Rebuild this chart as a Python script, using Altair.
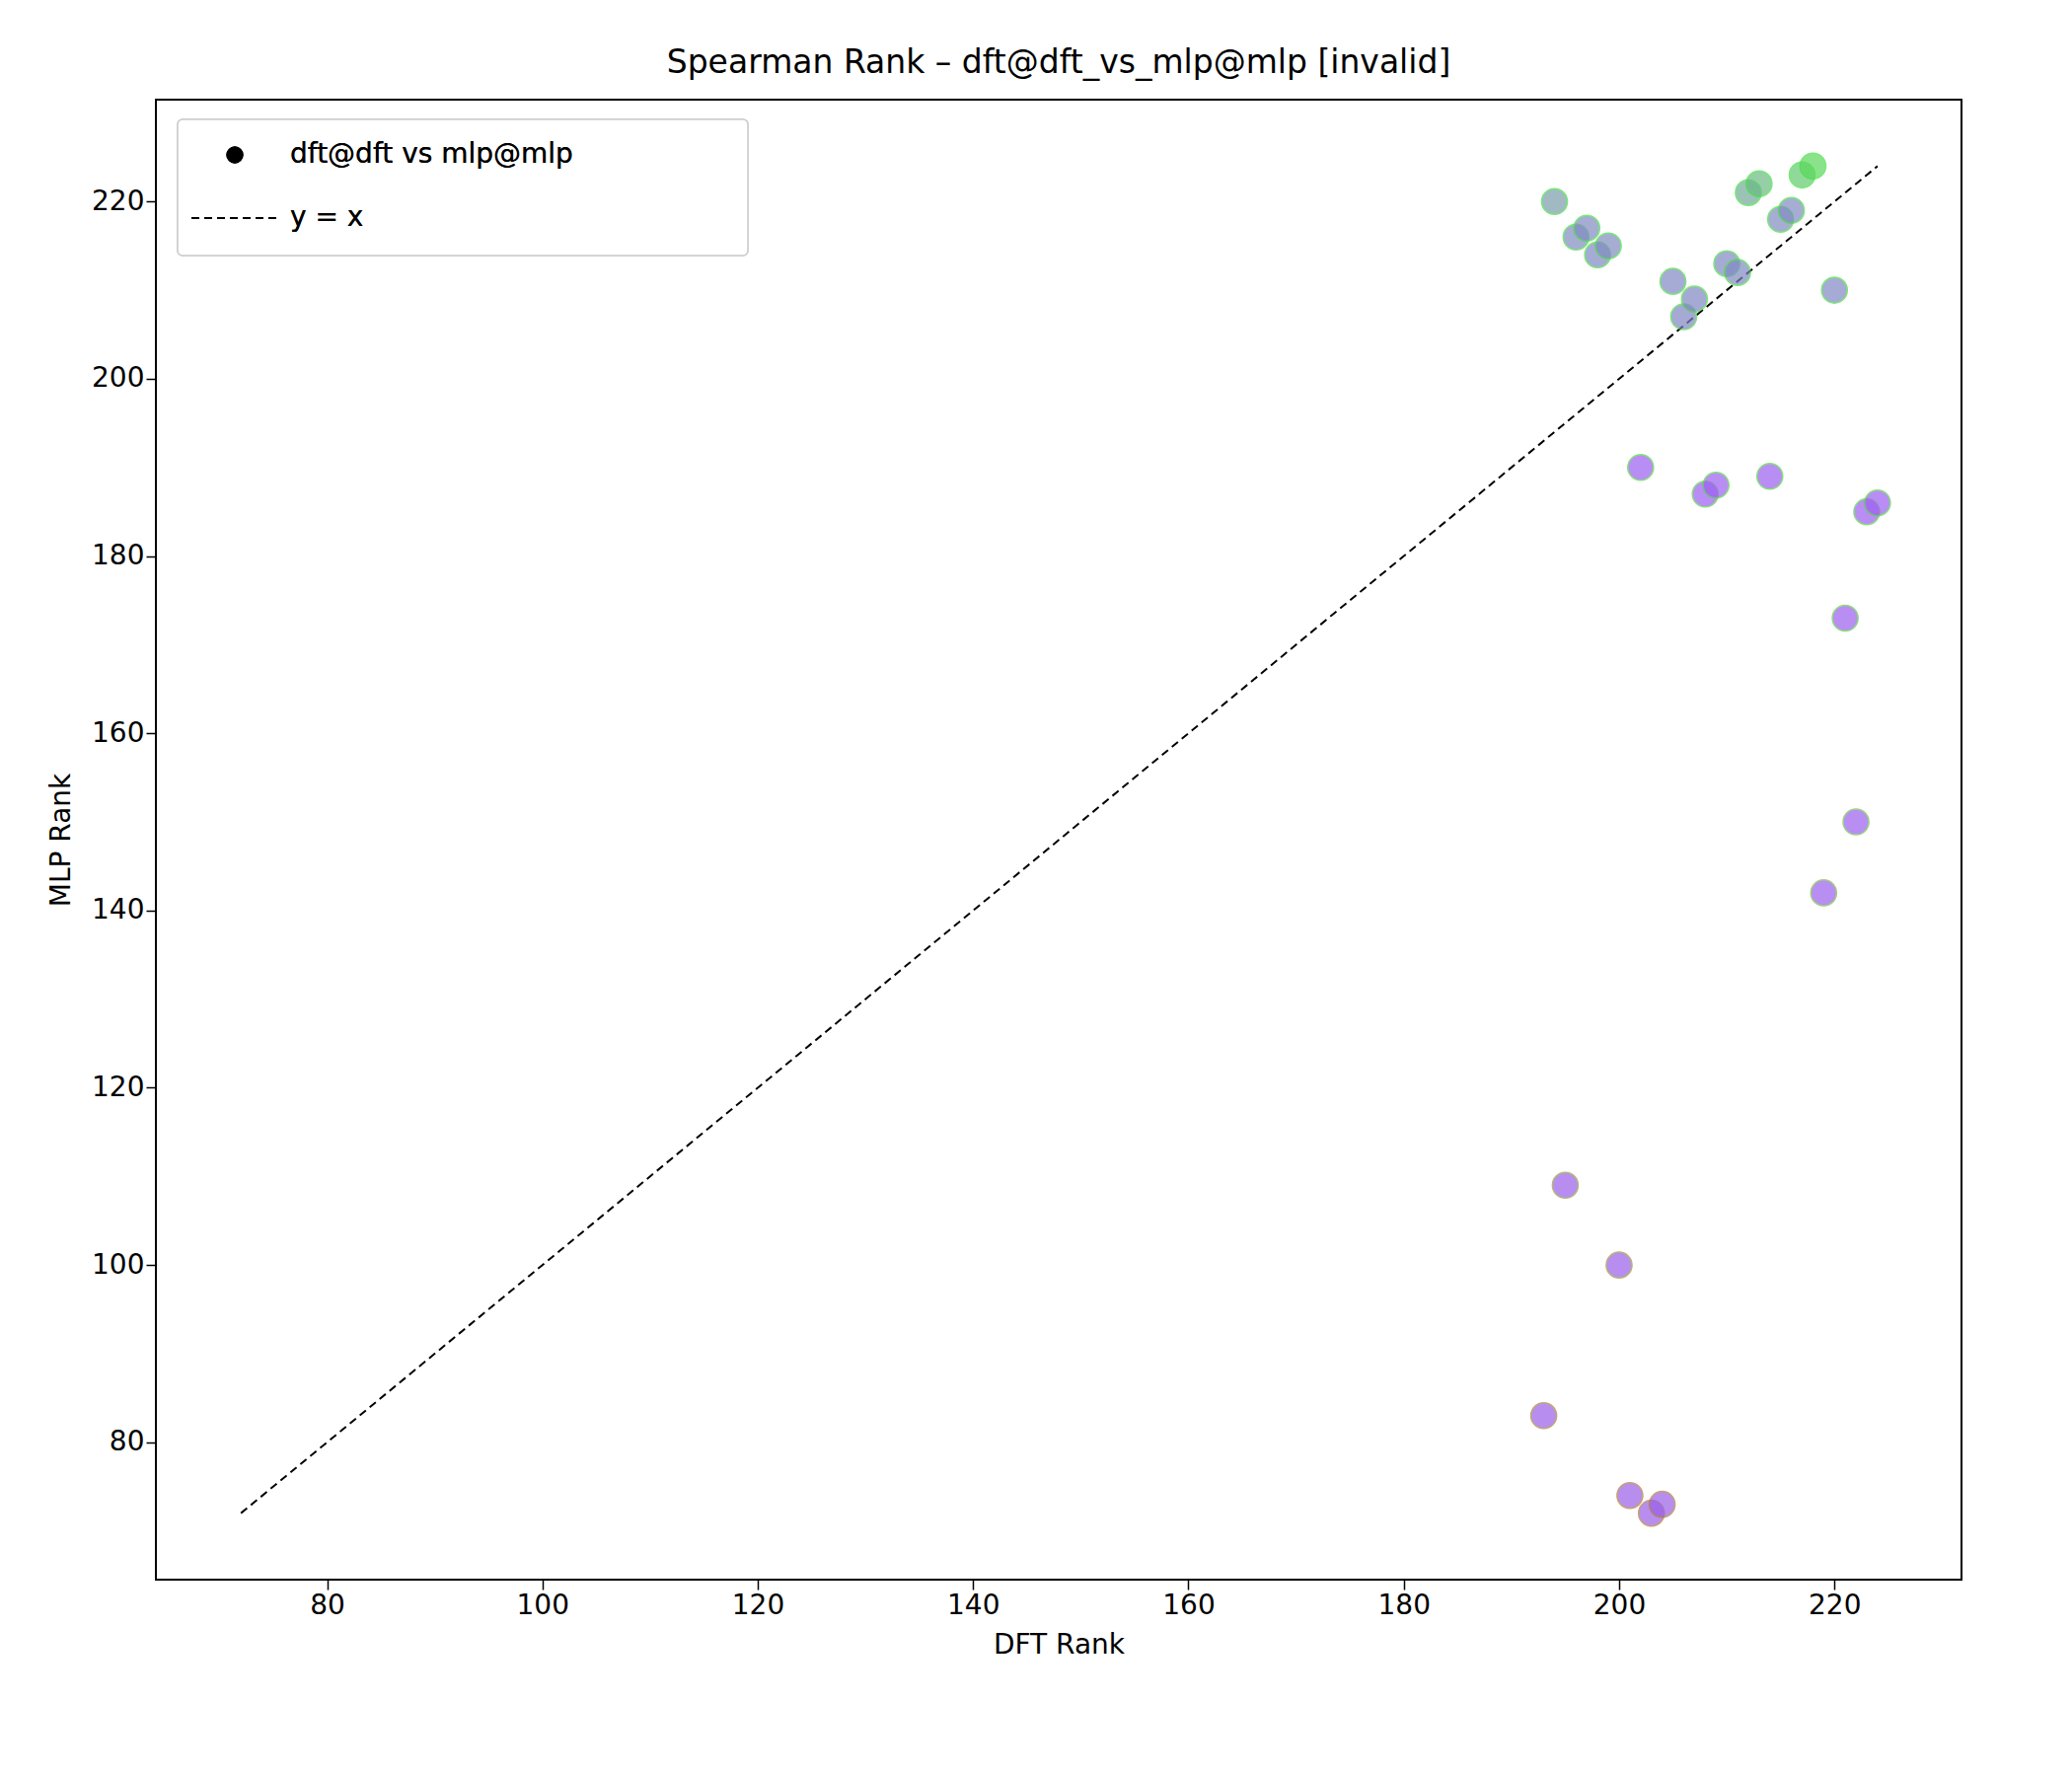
import altair as alt
import pandas as pd

dft = [194,196,197,198,199,205,206,207,210,211,212,213,215,216,217,218,220,
       202,208,209,214,223,224,221,222,219,
       195,200,193,201,203,204]
mlp = [220,216,217,214,215,211,207,209,213,212,221,222,218,219,223,224,210,
       190,187,188,189,185,186,173,150,142,
       109,100,83,74,72,73]

df = pd.DataFrame({"dft": dft, "mlp": mlp})
lo = min(min(dft), min(mlp)); hi = max(max(dft), max(mlp))
line_df = pd.DataFrame({"dft": [lo, hi], "mlp": [lo, hi]})

W, H = 1830, 1500
font = "DejaVu Sans"
FS = 28

xs = alt.Scale(domain=[64.1, 231.8], nice=False, zero=False)
ys = alt.Scale(domain=[64.5, 231.5], nice=False, zero=False)
common = dict(grid=False, labelFontSize=FS, titleFontSize=FS, labelFont=font, titleFont=font,
              titleFontWeight="normal", tickSize=10, tickWidth=1.5, tickColor="black",
              labelColor="black", titleColor="black", domain=False)
xax = alt.Axis(values=list(range(80, 221, 20)), title="DFT Rank", titlePadding=12, **common)
yax = alt.Axis(values=list(range(80, 221, 20)), title="MLP Rank", titlePadding=16, **common)

pts = alt.Chart(df).mark_circle(size=680, opacity=0.7, strokeWidth=1.5).encode(
    x=alt.X("dft:Q", scale=xs, axis=xax),
    y=alt.Y("mlp:Q", scale=ys, axis=yax),
    color=alt.Color("mlp:Q", scale=alt.Scale(domain=[72, 190, 205, 219, 224],
                    range=["#9a5ee8", "#9b5ff0", "#7f85c4", "#7f8dbf", "#5ad85a"],
                    interpolate="rgb"), legend=None),
    stroke=alt.Stroke("mlp:Q", scale=alt.Scale(domain=[72, 150, 224],
                      range=["#b07a3a", "#70c050", "#40e040"], interpolate="rgb"), legend=None),
)

ln = alt.Chart(line_df).mark_line(color="black", strokeDash=[8, 5], strokeWidth=2).encode(
    x=alt.X("dft:Q", scale=xs), y=alt.Y("mlp:Q", scale=ys))

box = alt.Chart(line_df).mark_rect(fill="white", stroke="#cccccc", strokeWidth=1.5,
                                   cornerRadius=5).encode(
    x=alt.value(22), x2=alt.value(600), y=alt.value(20), y2=alt.value(158))
ldot = alt.Chart(line_df).mark_point(filled=True, color="black", size=300, opacity=1).encode(
    x=alt.value(80), y=alt.value(56))
lrule = alt.Chart(line_df).mark_rule(color="black", strokeDash=[8, 5], strokeWidth=2).encode(
    x=alt.value(36), x2=alt.value(123), y=alt.value(120))
ltxt1 = alt.Chart(line_df).mark_text(align="left", baseline="middle", fontSize=FS,
                                     font=font, text="dft@dft vs mlp@mlp").encode(
    x=alt.value(136), y=alt.value(56))
ltxt2 = alt.Chart(line_df).mark_text(align="left", baseline="middle", fontSize=FS,
                                     font=font, text="y = x").encode(
    x=alt.value(136), y=alt.value(120))

chart = alt.layer(ln, pts, box, ldot, lrule, ltxt1, ltxt2).properties(
    width=W, height=H,
    title=alt.TitleParams("Spearman Rank – dft@dft_vs_mlp@mlp [invalid]",
                          fontSize=33, font=font, fontWeight="normal", offset=20),
).configure(padding={"left": 40, "top": 40, "right": 60, "bottom": 30}
).configure_view(stroke="black", strokeWidth=2)

chart.save("out.html", embed_options={"renderer": "svg", "actions": False})
